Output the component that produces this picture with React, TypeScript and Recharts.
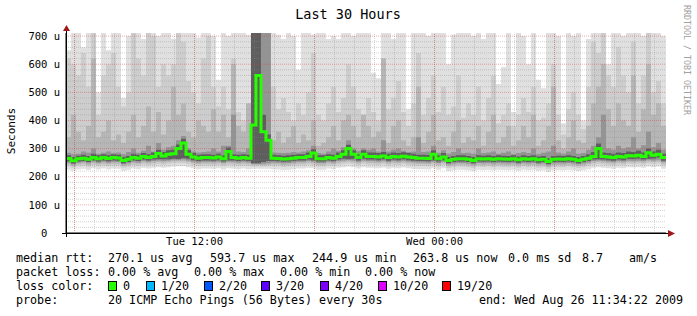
import React from 'react'
import { ComposedChart, Area, Line, XAxis, YAxis, ReferenceLine } from 'recharts'

// 30 hours, one column every 15 minutes, t in hours since Tue 05:34:22
const STEP = 0.25
const END = 30
const FIRST_HOUR = 0.427 // Tue 06:00

const timeTicks = [6.427, 18.427]
const timeLabels = ['Tue 12:00', 'Wed 00:00']
const yTicks = [0, 100, 200, 300, 400, 500, 600, 700]

// median rtt (us)
const median = [
  265, 257, 264, 266, 262, 268, 264, 268, 265, 268,
  267, 258, 262, 268, 266, 272, 268, 272, 283, 274,
  280, 282, 300, 320, 280, 270, 266, 268, 268, 267,
  270, 264, 290, 268, 266, 268, 266, 384, 560, 360,
  330, 266, 265, 263, 264, 266, 268, 268, 272, 284,
  264, 264, 268, 266, 272, 280, 300, 280, 268, 280,
  272, 272, 270, 274, 268, 272, 270, 273, 270, 268,
  266, 266, 265, 280, 264, 270, 258, 262, 264, 264,
  262, 258, 264, 263, 264, 262, 264, 263, 262, 264,
  260, 264, 262, 264, 260, 262, 254, 262, 263, 262,
  264, 262, 258, 262, 266, 272, 300, 272, 270, 268,
  272, 270, 275, 274, 276, 272, 285, 276, 280, 268,
]

// smoke, outermost (lightest) to innermost (darkest); 720 = off the top
const lo1 = [
  226, 222, 226, 228, 224, 230, 226, 229, 226, 229,
  228, 221, 224, 229, 227, 232, 229, 232, 234, 232,
  234, 236, 237, 237, 234, 230, 227, 229, 229, 228,
  230, 226, 230, 229, 227, 229, 227, 228, 228, 228,
  228, 227, 226, 224, 225, 227, 229, 229, 232, 230,
  225, 225, 229, 227, 232, 234, 236, 234, 229, 234,
  232, 232, 230, 233, 228, 232, 230, 233, 230, 228,
  227, 227, 226, 230, 225, 230, 220, 223, 225, 225,
  223, 220, 225, 224, 225, 223, 225, 224, 223, 225,
  221, 225, 223, 225, 221, 223, 217, 223, 224, 223,
  225, 223, 220, 223, 227, 232, 234, 232, 230, 228,
  232, 230, 234, 233, 234, 232, 236, 234, 236, 228,
]
const top1 = [
  650, 720, 720, 660, 720, 690, 500, 720, 650, 720,
  720, 480, 700, 720, 720, 690, 720, 720, 700, 720,
  720, 690, 720, 720, 720, 720, 695, 720, 720, 700,
  545, 720, 700, 720, 720, 720, 705, 720, 720, 720,
  720, 720, 705, 690, 720, 700, 580, 720, 720, 705,
  720, 720, 690, 700, 690, 720, 720, 700, 720, 720,
  720, 570, 550, 720, 720, 690, 720, 720, 440, 720,
  720, 720, 700, 720, 720, 720, 600, 705, 720, 720,
  720, 700, 720, 690, 720, 720, 530, 590, 720, 430,
  720, 700, 600, 720, 545, 515, 720, 720, 700, 390,
  720, 700, 720, 400, 690, 720, 720, 720, 600, 720,
  720, 700, 720, 720, 720, 700, 720, 720, 720, 700,
]
const lo2 = [
  237, 232, 237, 239, 235, 241, 237, 240, 237, 240,
  239, 232, 235, 240, 238, 243, 240, 243, 245, 243,
  245, 247, 248, 248, 245, 241, 238, 240, 240, 239,
  241, 237, 241, 240, 238, 240, 238, 236, 236, 236,
  237, 238, 237, 235, 236, 238, 240, 240, 243, 241,
  236, 236, 240, 238, 243, 245, 247, 245, 240, 245,
  243, 243, 241, 244, 239, 243, 241, 244, 241, 239,
  238, 238, 237, 241, 236, 241, 231, 234, 236, 236,
  234, 231, 236, 235, 236, 234, 236, 235, 234, 236,
  232, 236, 234, 236, 232, 234, 228, 234, 235, 234,
  236, 234, 231, 234, 238, 243, 245, 243, 241, 239,
  243, 241, 245, 244, 245, 243, 247, 245, 247, 239,
]
const top2 = [
  620, 600, 560, 640, 520, 720, 420, 560, 600, 640,
  520, 450, 500, 720, 620, 560, 720, 700, 520, 600,
  560, 600, 720, 680, 540, 500, 460, 620, 700, 520,
  450, 520, 440, 620, 430, 400, 460, 720, 720, 720,
  720, 520, 440, 480, 430, 400, 460, 420, 500, 640,
  420, 400, 460, 520, 430, 480, 600, 520, 440, 420,
  480, 430, 400, 620, 440, 480, 540, 430, 380, 460,
  640, 420, 480, 560, 430, 520, 420, 450, 560, 410,
  460, 420, 520, 400, 480, 560, 390, 420, 460, 380,
  420, 480, 430, 520, 400, 410, 460, 600, 420, 350,
  440, 500, 420, 370, 520, 680, 640, 720, 560, 520,
  660, 560, 500, 680, 460, 560, 720, 500, 540, 460,
]
const lo3 = [
  244, 238, 244, 246, 242, 248, 244, 247, 244, 247,
  246, 238, 242, 247, 245, 250, 247, 250, 252, 250,
  252, 254, 255, 255, 252, 248, 245, 247, 247, 246,
  248, 244, 248, 247, 245, 247, 245, 242, 242, 242,
  243, 245, 244, 242, 243, 245, 247, 247, 250, 248,
  243, 243, 247, 245, 250, 252, 254, 252, 247, 252,
  250, 250, 248, 251, 246, 250, 248, 251, 248, 246,
  245, 245, 244, 248, 243, 248, 238, 241, 243, 243,
  241, 238, 243, 242, 243, 241, 243, 242, 241, 243,
  239, 243, 241, 243, 239, 241, 235, 241, 242, 241,
  243, 241, 238, 241, 245, 250, 252, 250, 248, 246,
  250, 248, 252, 251, 252, 250, 254, 252, 254, 246,
]
const top3 = [
  340, 420, 360, 330, 380, 620, 340, 360, 400, 330,
  350, 320, 360, 420, 340, 380, 450, 360, 430, 350,
  400, 520, 420, 460, 360, 340, 400, 380, 360, 440,
  360, 420, 340, 600, 380, 360, 460, 720, 720, 720,
  720, 330, 360, 320, 340, 380, 320, 350, 330, 400,
  310, 320, 340, 380, 330, 400, 420, 380, 340, 420,
  380, 340, 360, 620, 320, 380, 400, 330, 310, 340,
  520, 320, 360, 420, 330, 340, 310, 360, 400, 320,
  340, 330, 380, 310, 360, 420, 320, 340, 380, 310,
  330, 380, 340, 420, 310, 330, 380, 520, 330, 300,
  340, 400, 330, 320, 380, 460, 520, 600, 440, 380,
  460, 400, 380, 560, 360, 440, 600, 420, 460, 380,
]
const lo4 = [
  250, 244, 250, 252, 248, 254, 250, 253, 250, 253,
  252, 244, 248, 253, 251, 256, 253, 256, 258, 256,
  258, 260, 262, 262, 258, 254, 251, 253, 253, 252,
  254, 250, 254, 253, 251, 253, 251, 246, 246, 246,
  248, 251, 250, 248, 249, 251, 253, 253, 256, 254,
  249, 249, 253, 251, 256, 258, 260, 258, 253, 258,
  256, 256, 254, 257, 252, 256, 254, 257, 254, 252,
  251, 251, 250, 254, 249, 254, 244, 247, 249, 249,
  247, 244, 249, 248, 249, 247, 249, 248, 247, 249,
  245, 249, 247, 249, 245, 247, 241, 247, 248, 247,
  249, 247, 244, 247, 251, 256, 258, 256, 254, 252,
  256, 254, 258, 257, 258, 256, 260, 258, 260, 252,
]
const top4 = [
  285, 280, 282, 290, 285, 300, 282, 285, 290, 284,
  286, 280, 288, 300, 285, 292, 310, 290, 320, 296,
  305, 310, 330, 345, 300, 290, 286, 288, 290, 300,
  290, 310, 310, 420, 290, 288, 300, 720, 720, 720,
  720, 286, 285, 284, 285, 288, 286, 290, 294, 310,
  284, 282, 290, 300, 292, 305, 330, 300, 292, 300,
  296, 300, 290, 330, 290, 296, 300, 292, 288, 290,
  340, 288, 290, 310, 285, 294, 282, 288, 300, 284,
  285, 282, 300, 284, 286, 290, 282, 285, 290, 280,
  284, 288, 284, 300, 280, 285, 290, 310, 286, 282,
  290, 300, 282, 284, 296, 310, 340, 420, 300, 296,
  310, 300, 305, 340, 300, 312, 360, 305, 320, 296,
]
const lo5 = [
  255, 247, 254, 256, 252, 258, 254, 258, 255, 258,
  257, 248, 252, 258, 256, 261, 258, 261, 262, 262,
  262, 264, 262, 266, 264, 259, 256, 258, 258, 257,
  259, 254, 258, 258, 256, 258, 256, 248, 248, 252,
  256, 256, 255, 253, 254, 256, 258, 258, 261, 258,
  254, 254, 258, 256, 261, 264, 262, 264, 258, 264,
  261, 261, 259, 262, 257, 261, 259, 262, 259, 257,
  256, 256, 255, 258, 254, 259, 248, 252, 254, 254,
  252, 248, 254, 253, 254, 252, 254, 253, 252, 254,
  250, 254, 252, 254, 250, 252, 245, 252, 253, 252,
  254, 252, 248, 252, 256, 261, 262, 261, 259, 257,
  261, 259, 264, 263, 265, 261, 264, 265, 268, 257,
]
const top5 = [
  276, 270, 275, 278, 274, 282, 276, 280, 276, 280,
  278, 270, 274, 282, 278, 284, 280, 286, 296, 288,
  294, 296, 315, 335, 295, 284, 278, 280, 280, 278,
  282, 276, 304, 280, 278, 280, 278, 720, 720, 420,
  350, 278, 276, 275, 276, 278, 280, 280, 286, 298,
  276, 276, 280, 278, 286, 294, 314, 294, 280, 294,
  286, 286, 284, 288, 282, 286, 284, 287, 284, 282,
  278, 278, 277, 294, 276, 284, 270, 274, 276, 276,
  274, 270, 276, 275, 276, 274, 276, 275, 274, 276,
  272, 276, 274, 276, 272, 274, 266, 274, 275, 274,
  276, 274, 270, 274, 280, 288, 318, 286, 284, 282,
  286, 284, 290, 288, 292, 286, 300, 290, 296, 282,
]

const rows = median.map((m, i) => ({
  t: i * STEP,
  median: m,
  s1: [lo1[i], top1[i]],
  s2: [lo2[i], top2[i]],
  s3: [lo3[i], top3[i]],
  s4: [lo4[i], top4[i]],
  s5: [lo5[i], top5[i]],
}))
rows.push({ ...rows[rows.length - 1], t: END })

const smoke = [
  { key: 's1', color: '#e0e0e0' },
  { key: 's2', color: '#cdcdcd' },
  { key: 's3', color: '#b6b6b6' },
  { key: 's4', color: '#949494' },
  { key: 's5', color: '#5e5e5e' },
]

const hourLines = Array.from({ length: 30 }, (_, k) => FIRST_HOUR + k)
const majorHours = [0.427, 6.427, 12.427, 18.427, 24.427]
const minorY = Array.from({ length: 36 }, (_, k) => k * 20).filter((v) => v % 100 !== 0)

const lossColors = ['#26ff00', '#00b8ff', '#0059ff', '#5e00ff', '#7e00ff', '#dd00ff', '#ff0000']
const lossLabels = ['0', '1/20', '2/20', '3/20', '4/20', '10/20', '19/20']
const lossBoxX = [108, 146, 204, 261, 320, 378, 442]

const MONO = '"DejaVu Sans Mono", monospace'
const margin = { top: 33, right: 31, bottom: 63, left: 6 }
const Y_MAX = 711
const MINOR = 'rgba(140,140,140,0.38)'
const MAJOR = 'rgba(215,60,60,0.42)'

const fmtY = (v: number) => (v === 0 ? '0\u00a0\u00a0' : `${v} u`)
const fmtX = (v: number) => timeLabels[timeTicks.indexOf(v)] ?? ''

export default function App() {
  const tickStyle = { fontFamily: MONO, fontSize: 10.5, fill: '#000' }
  return (
    <div style={{ position: 'absolute', left: 0, top: 0, width: 697, height: 316, background: '#fff' }}>
      <div style={{ position: 'absolute', left: 0, top: 0 }}>
        <ComposedChart width={697} height={316} data={rows} margin={margin}>
          <XAxis
            dataKey="t"
            type="number"
            domain={[0, END]}
            ticks={timeTicks}
            tickFormatter={fmtX}
            height={20}
            tickSize={0}
            tickMargin={5}
            tick={tickStyle}
            axisLine={{ stroke: '#000' }}
            allowDataOverflow
          />
          <YAxis
            type="number"
            domain={[0, Y_MAX]}
            ticks={yTicks}
            tickFormatter={fmtY}
            width={60}
            tickSize={0}
            tickMargin={6}
            tick={tickStyle}
            axisLine={{ stroke: '#000' }}
            allowDataOverflow
          />
          {smoke.map((s) => (
            <Area
              key={s.key}
              dataKey={s.key}
              type="stepAfter"
              fill={s.color}
              fillOpacity={1}
              stroke="none"
              dot={false}
              activeDot={false}
              isAnimationActive={false}
            />
          ))}
        </ComposedChart>
      </div>
      <div style={{ position: 'absolute', left: 0, top: 0, pointerEvents: 'none' }}>
        <ComposedChart width={697} height={316} data={rows} margin={margin}>
          <XAxis dataKey="t" type="number" domain={[0, END]} height={20} tick={false} tickLine={false} axisLine={false} allowDataOverflow />
          <YAxis type="number" domain={[0, Y_MAX]} width={60} tick={false} tickLine={false} axisLine={false} allowDataOverflow />
          {minorY.map((v) => (
            <ReferenceLine key={'hy' + v} y={v} stroke={MINOR} strokeDasharray="1 1" />
          ))}
          {hourLines.map((v) => (
            <ReferenceLine key={'vx' + v} x={v} stroke={MINOR} strokeDasharray="1 1" />
          ))}
          {yTicks.filter((v) => v > 0).map((v) => (
            <ReferenceLine key={'my' + v} y={v} stroke={MAJOR} strokeDasharray="1 1" />
          ))}
          {majorHours.map((v) => (
            <ReferenceLine key={'mx' + v} x={v} stroke={MAJOR} strokeDasharray="1 1" />
          ))}
          <Line
            dataKey="median"
            type="stepAfter"
            stroke="#26ff00"
            strokeWidth={3}
            dot={false}
            activeDot={false}
            isAnimationActive={false}
          />
        </ComposedChart>
      </div>
      <svg width={697} height={316} style={{ position: 'absolute', left: 0, top: 0, pointerEvents: 'none' }}>
        <line x1={62} y1={233.5} x2={669} y2={233.5} stroke="#000" />
        <line x1={66.5} y1={237} x2={66.5} y2={30} stroke="#000" />
        <polygon points="668,230 675,233.5 668,237" fill="#a01818" />
        <polygon points="63,31 66.5,25 70,31" fill="#a01818" />
        <text x={348} y={14} textAnchor="middle" dominantBaseline="central" fontFamily={MONO} fontSize={13.5}>
          Last 30 Hours
        </text>
        <text
          transform="translate(11,131) rotate(-90)"
          textAnchor="middle"
          dominantBaseline="central"
          fontFamily={MONO}
          fontSize={11}
        >
          Seconds
        </text>
        <text
          transform="translate(687,60) rotate(90)"
          textAnchor="middle"
          dominantBaseline="central"
          fontFamily={MONO}
          fontSize={8.3}
          fill="#a0a0a0"
        >
          RRDTOOL / TOBI OETIKER
        </text>
        <g fontFamily={MONO} fontSize={11.7} fill="#000" dominantBaseline="central">
          <text x={16} y={258}>median rtt:</text>
          <text x={108} y={258}>270.1 us avg</text>
          <text x={210} y={258}>593.7 us max</text>
          <text x={312} y={258}>244.9 us min</text>
          <text x={413} y={258}>263.8 us now</text>
          <text x={508} y={258}>0.0 ms sd</text>
          <text x={582} y={258}>8.7</text>
          <text x={629} y={258}>am/s</text>

          <text x={16} y={272}>packet loss:</text>
          <text x={108} y={272}>0.00 % avg</text>
          <text x={194} y={272}>0.00 % max</text>
          <text x={280} y={272}>0.00 % min</text>
          <text x={365} y={272}>0.00 % now</text>

          <text x={16} y={286}>loss color:</text>
          {lossLabels.map((l, i) => (
            <g key={l}>
              <rect x={lossBoxX[i] + 0.5} y={281.5} width={8} height={9} fill={lossColors[i]} stroke="#000" />
              <text x={lossBoxX[i] + 15} y={286}>{l}</text>
            </g>
          ))}

          <text x={16} y={300}>probe:</text>
          <text x={108} y={300}>20 ICMP Echo Pings (56 Bytes) every 30s</text>
          <text x={479} y={300}>end: Wed Aug 26 11:34:22 2009</text>
        </g>
      </svg>
    </div>
  )
}
